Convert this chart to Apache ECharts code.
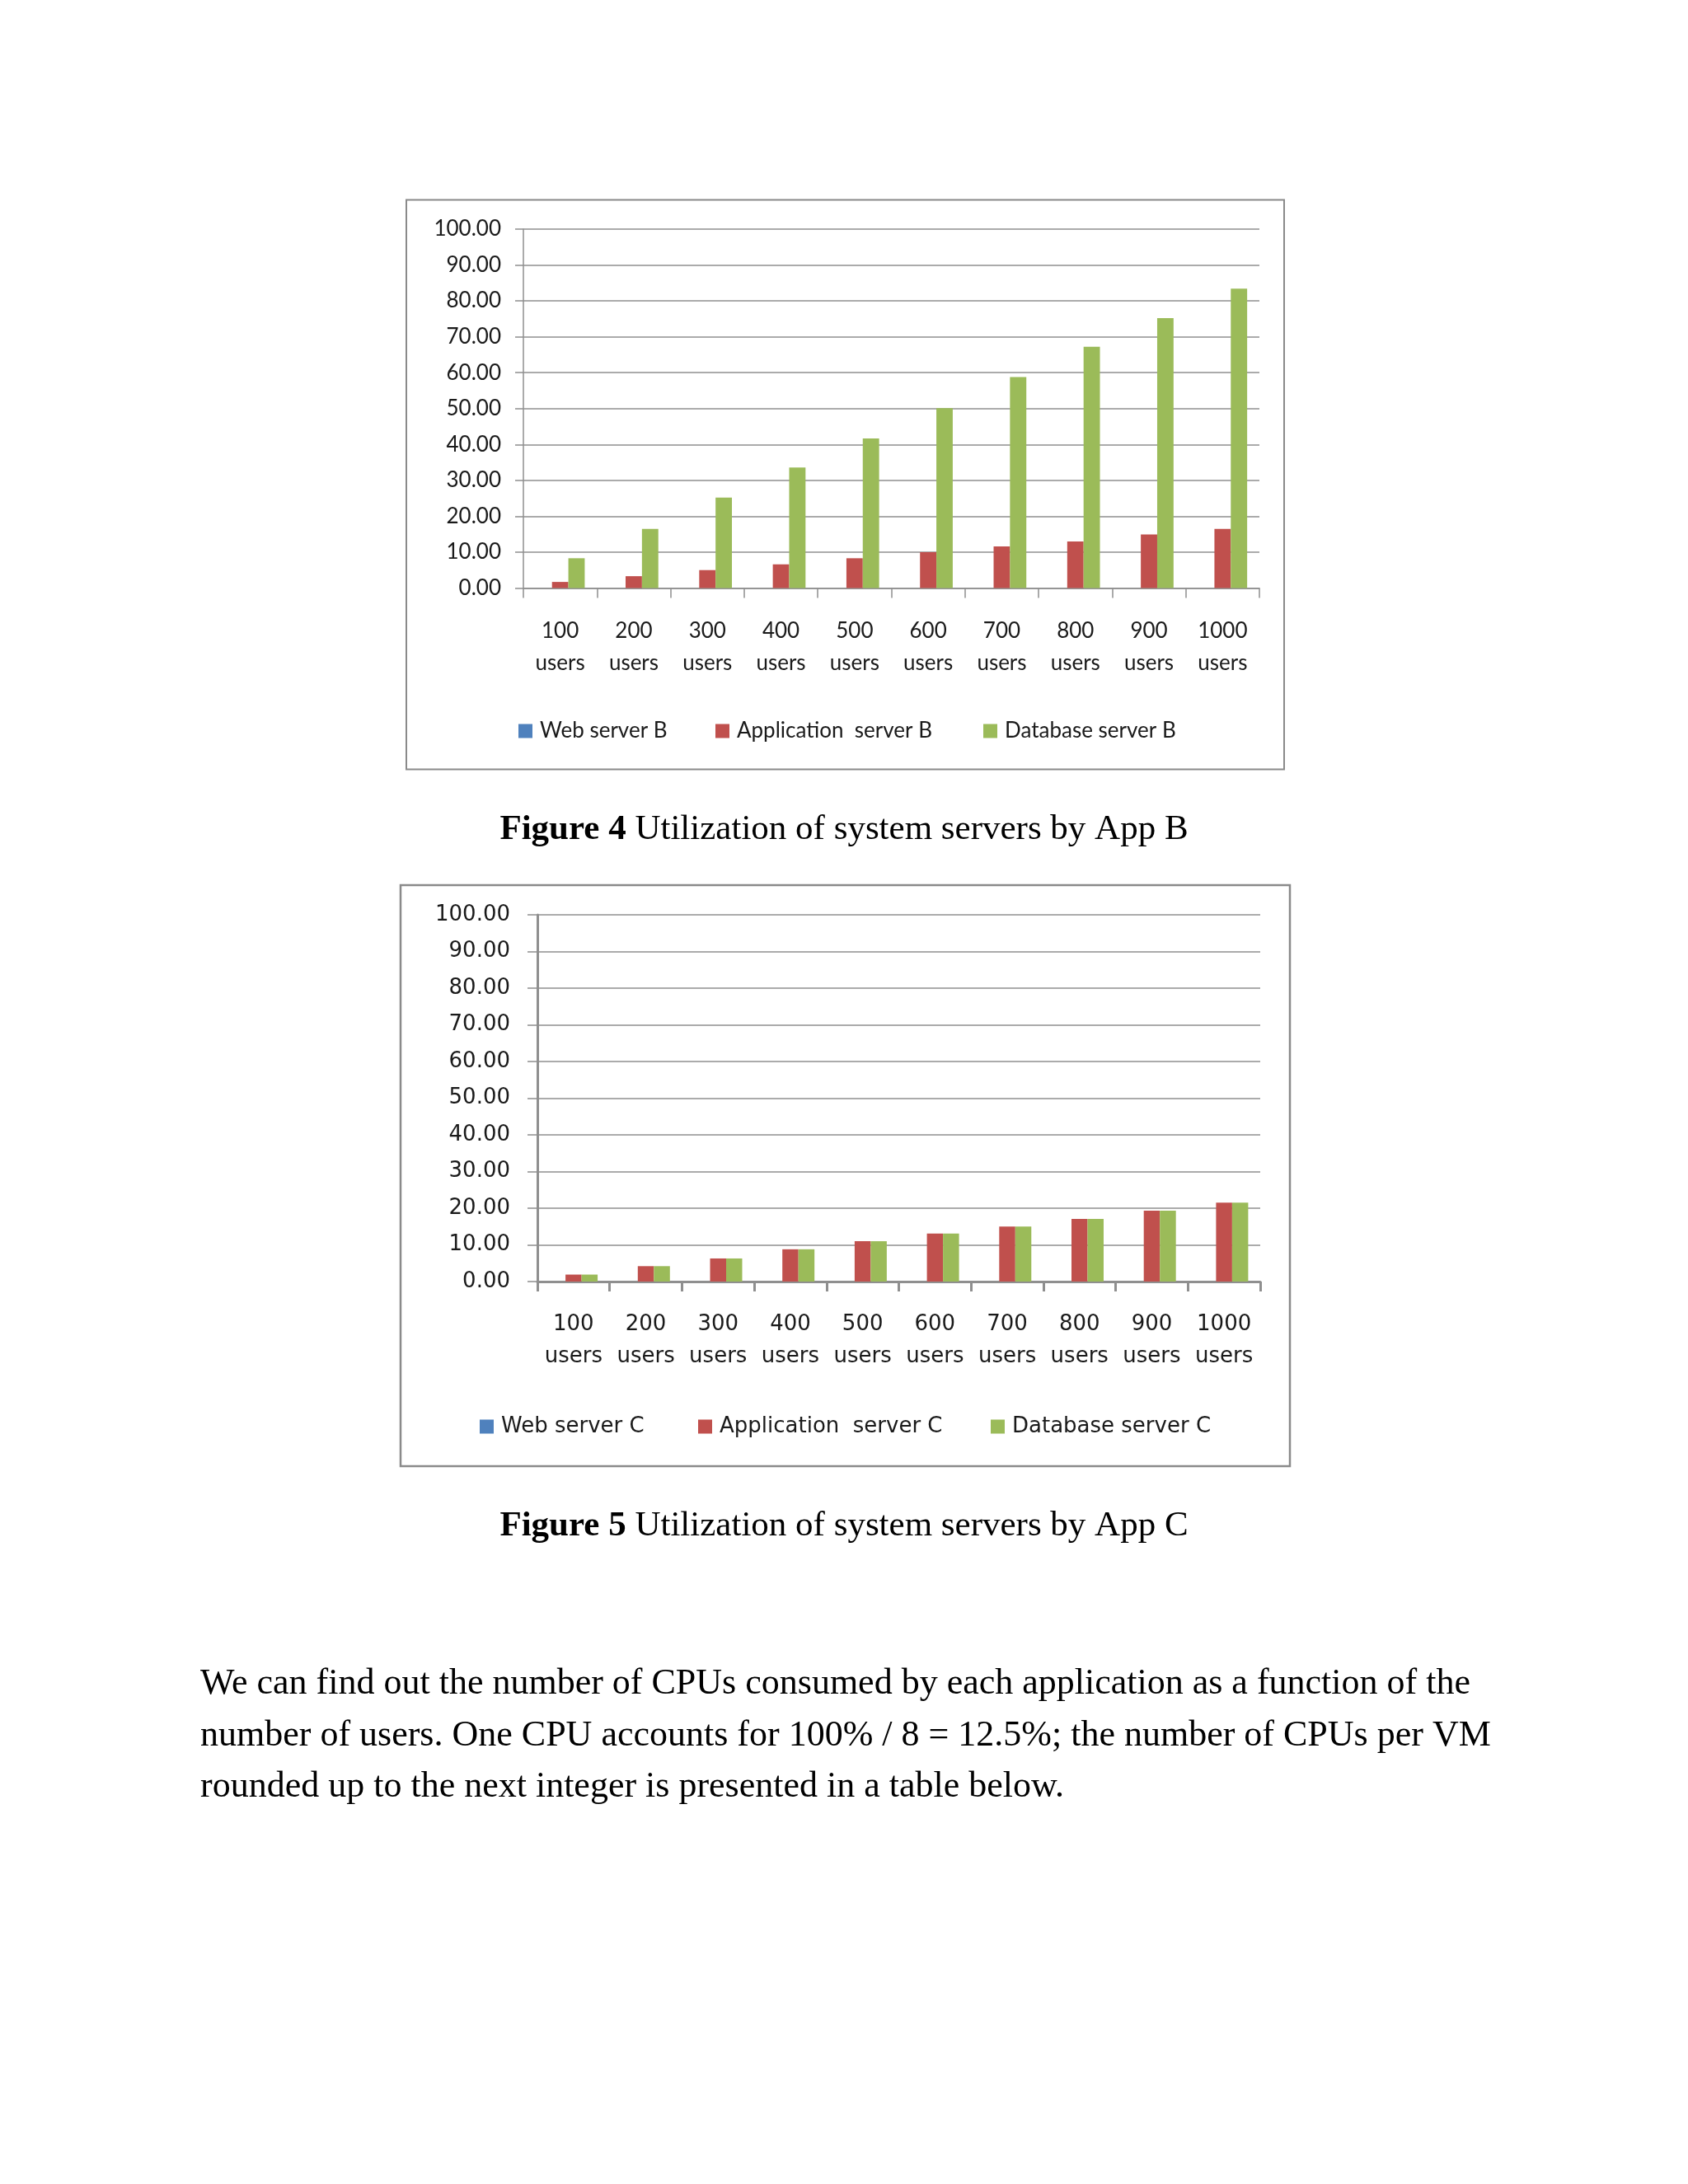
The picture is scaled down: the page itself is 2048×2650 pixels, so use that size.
<!DOCTYPE html>
<html>
<head>
<meta charset="utf-8">
<script src="https://cdn.jsdelivr.net/npm/echarts/dist/echarts.min.js"></script>
<style>
  html, body { margin: 0; padding: 0; background: #ffffff; }
  #page { width: 2048px; height: 2650px; }
</style>
</head>
<body>
<div id="page"></div>
<script>
// tick labels shared by both figures
const categories = ['100\nusers', '200\nusers', '300\nusers', '400\nusers', '500\nusers',
  '600\nusers', '700\nusers', '800\nusers', '900\nusers', '1000\nusers'];

// Figure 4 - App B
const webB = [0, 0, 0, 0, 0, 0, 0, 0, 0, 0];
const appB = [1.7, 3.3, 5.0, 6.6, 8.3, 10.0, 11.6, 13.0, 14.9, 16.5];
const dbB = [8.3, 16.5, 25.2, 33.6, 41.7, 50.1, 58.8, 67.2, 75.2, 83.4];

// Figure 5 - App C
const webC = [0, 0, 0, 0, 0, 0, 0, 0, 0, 0];
const appC = [1.9, 4.2, 6.3, 8.8, 11.0, 13.1, 15.0, 17.1, 19.3, 21.5];
const dbC = [1.9, 4.2, 6.3, 8.8, 11.0, 13.1, 15.0, 17.1, 19.3, 21.5];

const namesB = ['Web server B', 'Application  server B', 'Database server B'];
const namesC = ['Web server C', 'Application  server C', 'Database server C'];

const BLUE = '#4F81BD';
const RED = '#C0504D';
const GREEN = '#9BBB59';
const GRID_GRAY = '#8f8f8f';

const FONT_B = 'Lato';
const FONT_C = '"DejaVu Sans"';
const SERIF = '"Liberation Serif", "DejaVu Serif", serif';

let chart = echarts.init(document.getElementById('page'), null, { renderer: 'canvas' });

function xAxisFor(gridIndex, font, tickLen, lineW) {
  return {
    type: 'category',
    gridIndex: gridIndex,
    data: categories,
    boundaryGap: true,
    axisLine: { show: true, lineStyle: { color: GRID_GRAY, width: lineW } },
    axisTick: { show: true, length: tickLen, alignWithLabel: false, lineStyle: { color: GRID_GRAY, width: lineW } },
    axisLabel: {
      interval: 0,
      margin: 33,
      fontFamily: font,
      fontSize: 26,
      lineHeight: 39,
      color: '#1a1a1a'
    },
    splitLine: { show: false }
  };
}

function yAxisFor(gridIndex, font, margin, tickLen, lineW) {
  return {
    type: 'value',
    gridIndex: gridIndex,
    min: 0,
    max: 100,
    interval: 10,
    axisLine: { show: true, lineStyle: { color: GRID_GRAY, width: lineW } },
    axisTick: { show: true, length: tickLen, lineStyle: { color: GRID_GRAY, width: 1.5 } },
    axisLabel: {
      margin: margin,
      fontFamily: font,
      fontSize: 26,
      color: '#1a1a1a',
      formatter: function(v) { return v.toFixed(2); }
    },
    splitLine: { show: true, lineStyle: { color: GRID_GRAY, width: 1.5 } }
  };
}

function barSeries(name, data, color, idx) {
  return {
    name: name,
    type: 'bar',
    xAxisIndex: idx,
    yAxisIndex: idx,
    data: data,
    barGap: '0%',
    barCategoryGap: '33.33%',
    itemStyle: { color: color },
    emphasis: { disabled: true }
  };
}

function legendItem(name, left, top, font) {
  return {
    data: [name],
    left: left,
    top: top,
    padding: 0,
    icon: 'rect',
    itemWidth: 17,
    itemHeight: 17,
    selectedMode: false,
    textStyle: {
      fontFamily: font,
      fontSize: 26,
      lineHeight: 30,
      color: '#1a1a1a',
      padding: [0, 0, 0, 4]
    }
  };
}

function caption(num, rest, y) {
  return {
    type: 'text',
    style: {
      x: 1024,
      y: y,
      text: '{b|Figure ' + num + '} ' + rest,
      font: '43px ' + SERIF,
      fill: '#000',
      align: 'center',
      verticalAlign: 'middle',
      textAlign: 'center',
      textVerticalAlign: 'middle',
      rich: {
        b: { fontFamily: SERIF, fontSize: 43, fontWeight: 'bold', fill: '#000' }
      }
    }
  };
}

function paraLine(text, y) {
  return {
    type: 'text',
    style: {
      x: 243,
      y: y,
      text: text,
      font: '44px ' + SERIF,
      fill: '#000',
      align: 'left',
      verticalAlign: 'middle',
      textAlign: 'left',
      textVerticalAlign: 'middle'
    }
  };
}

let option = {
  backgroundColor: '#ffffff',
  animation: false,
  grid: [
    { left: 635, top: 278, width: 893, height: 435.5 },
    { left: 652, top: 1110, width: 877, height: 445 }
  ],
  xAxis: [
    xAxisFor(0, FONT_B, 12, 1.5),
    xAxisFor(1, FONT_C, 12, 3)
  ],
  yAxis: [
    yAxisFor(0, FONT_B, 27, 10, 1.5),
    yAxisFor(1, FONT_C, 33, 12, 3)
  ],
  legend: [
    legendItem(namesB[0], 629, 872, FONT_B),
    legendItem(namesB[1], 868, 872, FONT_B),
    legendItem(namesB[2], 1193, 872, FONT_B),
    legendItem(namesC[0], 582, 1716, FONT_C),
    legendItem(namesC[1], 847, 1716, FONT_C),
    legendItem(namesC[2], 1202, 1716, FONT_C)
  ],
  series: [
    barSeries(namesB[0], webB, BLUE, 0),
    barSeries(namesB[1], appB, RED, 0),
    barSeries(namesB[2], dbB, GREEN, 0),
    barSeries(namesC[0], webC, BLUE, 1),
    barSeries(namesC[1], appC, RED, 1),
    barSeries(namesC[2], dbC, GREEN, 1)
  ],
  graphic: [
    // frames round the two figures
    {
      type: 'rect',
      shape: { x: 493, y: 242.5, width: 1065, height: 691 },
      style: { fill: 'none', stroke: '#8a8a8a', lineWidth: 2 },
      silent: true
    },
    {
      type: 'rect',
      shape: { x: 486, y: 1074, width: 1079, height: 705 },
      style: { fill: 'none', stroke: '#8a8a8a', lineWidth: 2.5 },
      silent: true
    },
    caption(4, 'Utilization of system servers by App B', 1007),
    caption(5, 'Utilization of system servers by App C', 1852),
    paraLine('We can find out the number of CPUs consumed by each application as a function of the', 2043),
    paraLine('number of users. One CPU accounts for 100% / 8 = 12.5%; the number of CPUs per VM', 2106),
    paraLine('rounded up to the next integer is presented in a table below.', 2168)
  ]
};

if (option && typeof option === 'object') {
  chart.setOption(option);
}
</script>
</body>
</html>
